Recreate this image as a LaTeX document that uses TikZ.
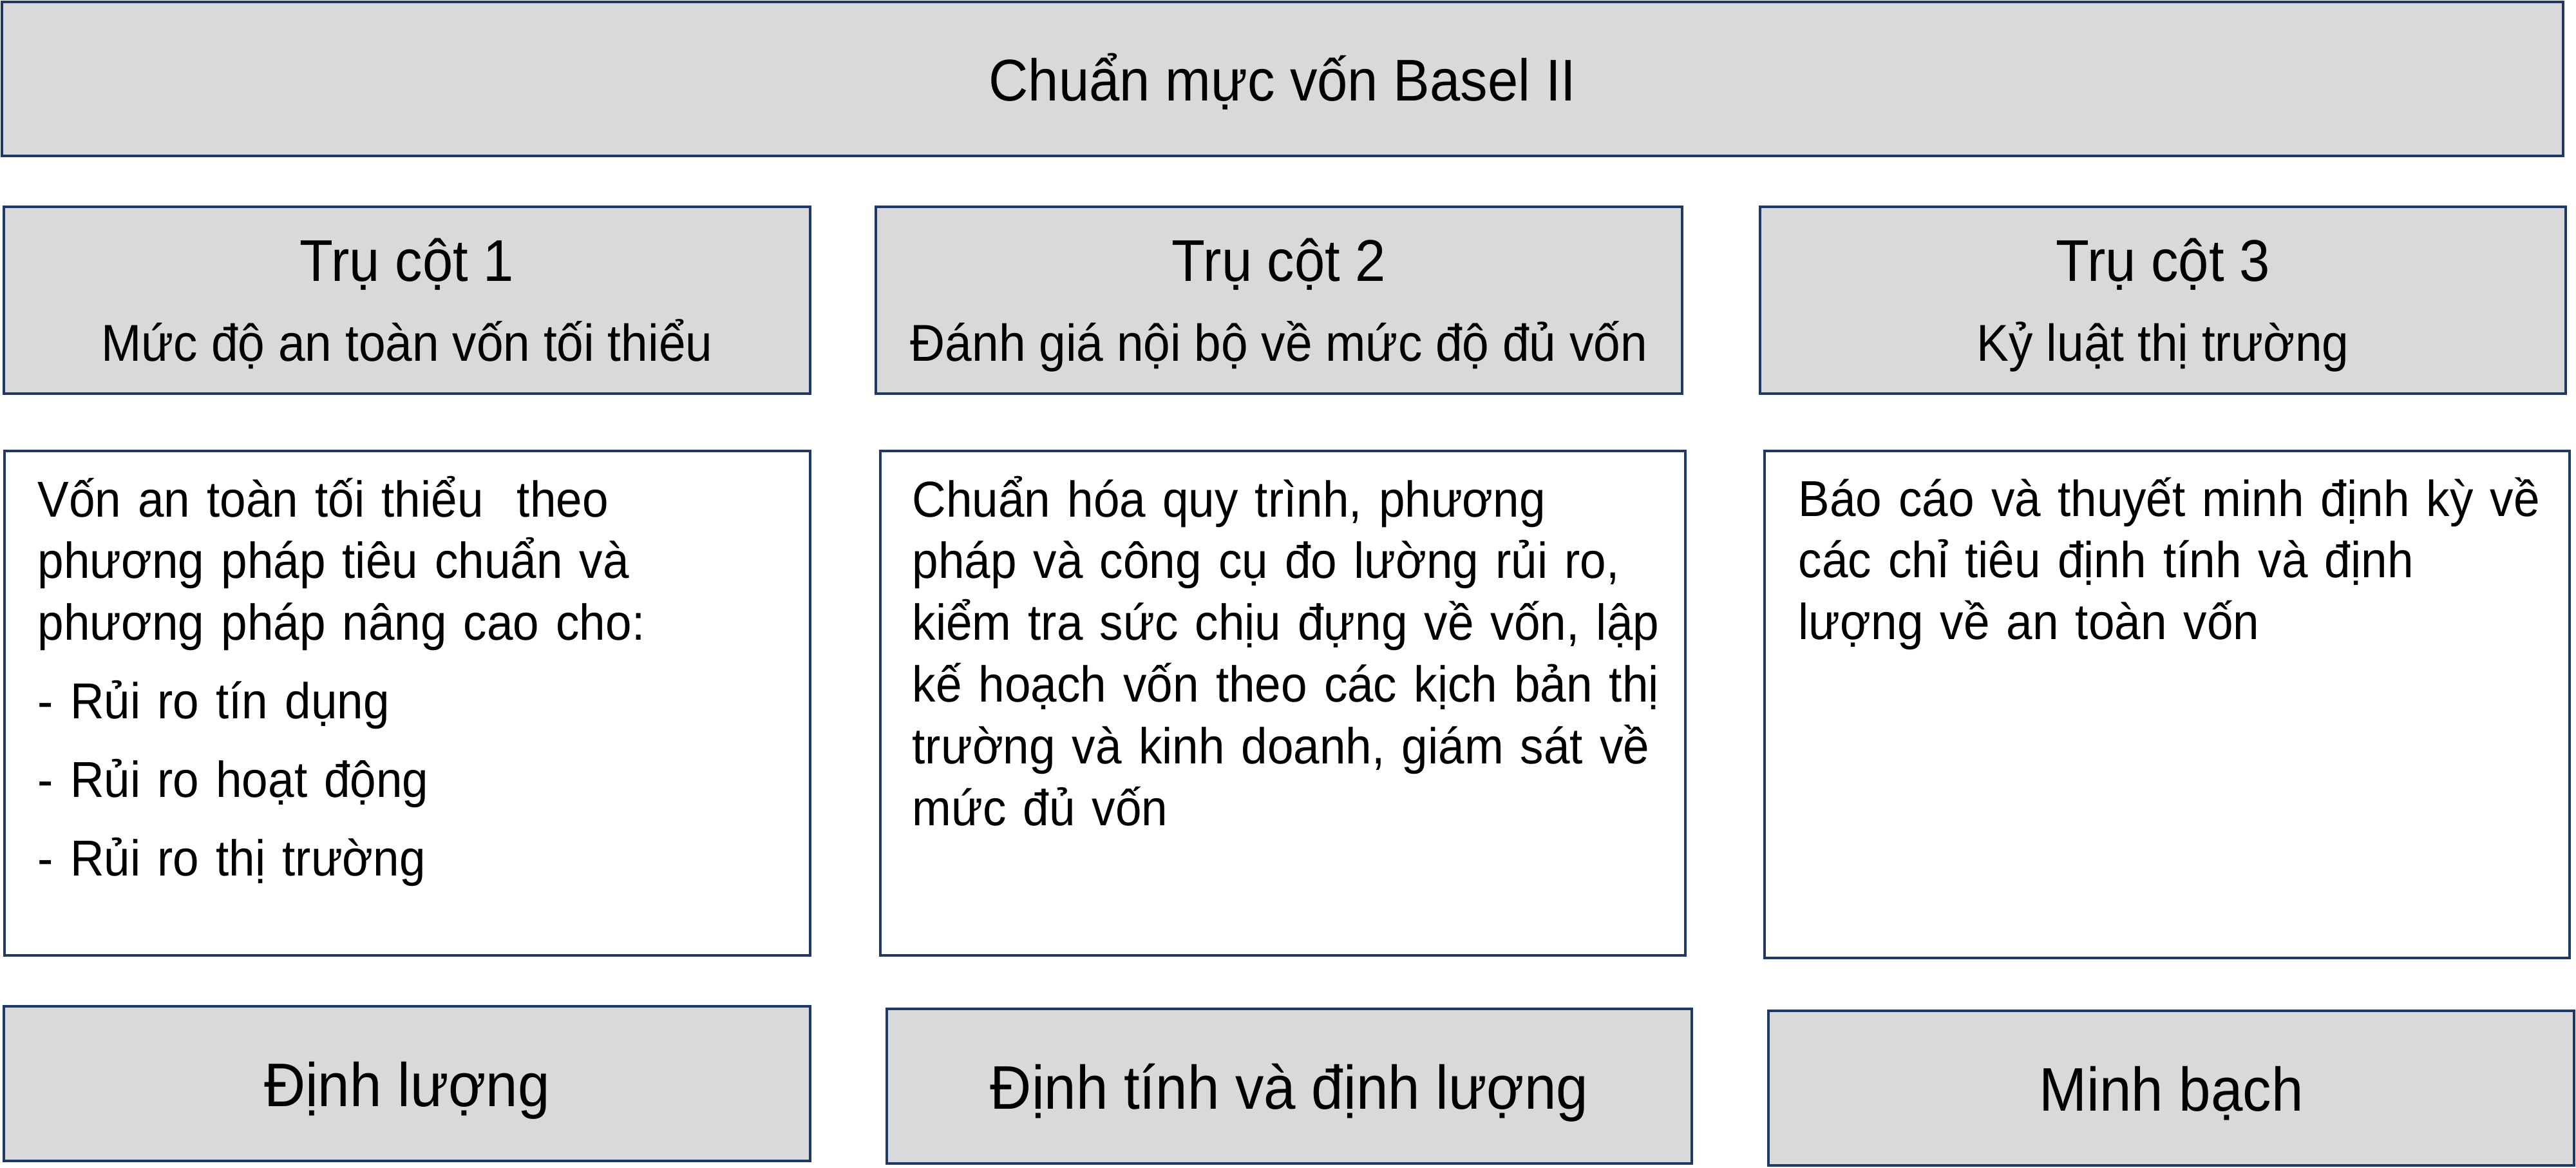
\documentclass[tikz,border=0pt]{standalone}
\usepackage{fontspec}
\setmainfont{Liberation Sans}[FakeStretch=0.93]
\newfontfamily\bodyfamily{Liberation Sans}[FakeStretch=0.93, WordSpace=0.6]
\definecolor{boxnavy}{RGB}{31,56,100}
\definecolor{boxgrey}{RGB}{217,217,217}
\tikzset{
	greybox/.style={draw=boxnavy, fill=boxgrey, line width=0.04cm, inner sep=0pt},
	whitebox/.style={draw=boxnavy, fill=white, line width=0.04cm, inner sep=0pt},
	headfont/.style={font=\fontsize{26}{31}\selectfont},
	subfont/.style={font=\fontsize{22.9}{27.3}\selectfont},
	footfont/.style={font=\fontsize{27.2}{32}\selectfont},
	pillartext/.style={anchor=base, inner sep=0pt},
	bodytext/.style={anchor=base west, inner sep=0pt, text width=12cm, align=left, font=\bodyfamily\fontsize{22.3}{27.3}\selectfont}
}
\begin{document}
\begin{tikzpicture}
	
	\useasboundingbox (0,0) rectangle (40,-18.12);
	
	\node[greybox, headfont, minimum width=39.77cm, minimum height=2.39cm, text height=0.68cm, text depth=0pt] (basel) at (19.915,-1.225) {Chuẩn mực vốn Basel II};
	
	\node[greybox, minimum width=12.52cm, minimum height=2.90cm] (pillar1) at (6.32,-4.66) {};
	\node[greybox, minimum width=12.52cm, minimum height=2.90cm] (pillar2) at (19.86,-4.66) {};
	\node[greybox, minimum width=12.51cm, minimum height=2.90cm] (pillar3) at (33.585,-4.66) {};
	
	\node[pillartext, headfont] (pillar1title) at (6.32,-4.36) {Trụ cột 1};
	\node[pillartext, subfont] (pillar1sub) at (6.32,-5.60) {Mức độ an toàn vốn tối thiểu};
	\node[pillartext, headfont] (pillar2title) at (19.86,-4.36) {Trụ cột 2};
	\node[pillartext, subfont] (pillar2sub) at (19.86,-5.60) {Đánh giá nội bộ về mức độ đủ vốn};
	\node[pillartext, headfont] (pillar3title) at (33.585,-4.36) {Trụ cột 3};
	\node[pillartext, subfont] (pillar3sub) at (33.585,-5.60) {Kỷ luật thị trường};
	
	\node[whitebox, minimum width=12.51cm, minimum height=7.83cm] (content1) at (6.325,-10.915) {};
	\node[whitebox, minimum width=12.50cm, minimum height=7.83cm] (content2) at (19.92,-10.915) {};
	\node[whitebox, minimum width=12.50cm, minimum height=7.87cm] (content3) at (33.65,-10.935) {};
	
	\node[bodytext] (content1text) at (0.58,-8.02) {Vốn an toàn tối thiểu\ \ theo\\phương pháp tiêu chuẩn và\\phương pháp nâng cao cho:\\[0.26cm]- Rủi ro tín dụng\\[0.26cm]- Rủi ro hoạt động\\[0.26cm]- Rủi ro thị trường};
	\node[bodytext] (content2text) at (14.16,-8.02) {Chuẩn hóa quy trình, phương\\pháp và công cụ đo lường rủi ro,\\kiểm tra sức chịu đựng về vốn, lập\\kế hoạch vốn theo các kịch bản thị\\trường và kinh doanh, giám sát về\\mức đủ vốn};
	\node[bodytext] (content3text) at (27.92,-8.01) {Báo cáo và thuyết minh định kỳ về\\các chỉ tiêu định tính và định\\lượng về an toàn vốn};
	
	\node[greybox, footfont, minimum width=12.52cm, minimum height=2.40cm, text height=0.70cm, text depth=0pt] (type1) at (6.32,-16.82) {Định lượng};
	\node[greybox, footfont, minimum width=12.50cm, minimum height=2.40cm, text height=0.70cm, text depth=0pt] (type2) at (20.02,-16.86) {Định tính và định lượng};
	\node[greybox, footfont, minimum width=12.51cm, minimum height=2.40cm, text height=0.70cm, text depth=0pt] (type3) at (33.715,-16.89) {Minh bạch};
	
\end{tikzpicture}
\end{document}
